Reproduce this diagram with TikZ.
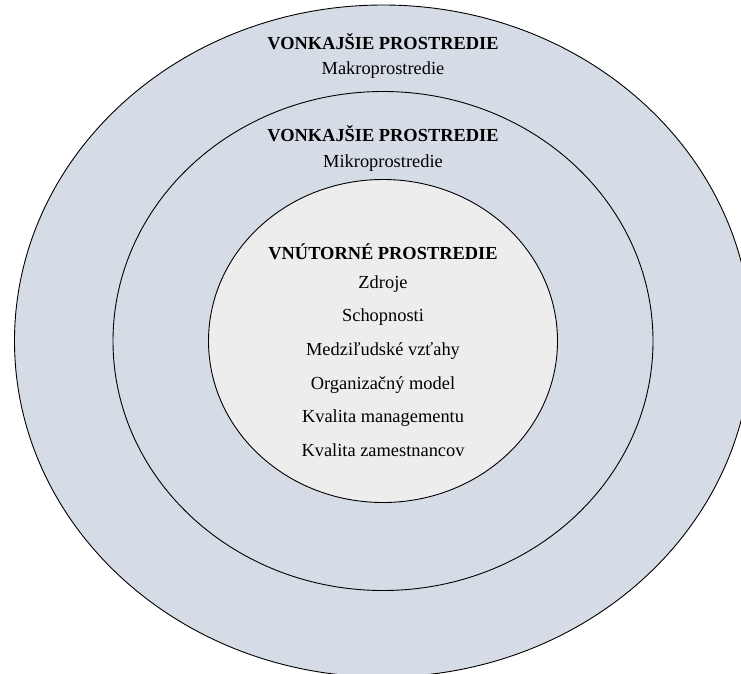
\documentclass[tikz,border=0pt]{standalone}
\usepackage{fontspec}
\setmainfont{Liberation Serif}
\usetikzlibrary{shapes.geometric, positioning}

\definecolor{ringblue}{HTML}{D6DCE5}
\definecolor{coregray}{HTML}{EDEDED}

\begin{document}
\begin{tikzpicture}[
        x=1pt, y=-1pt,
        ring/.style={draw, ellipse, line width=0.9pt, inner sep=0pt, outer sep=0pt},
        ttl/.style={anchor=base, inner sep=0pt, font=\fontsize{18.4}{22}\selectfont\bfseries},
        txt/.style={anchor=base, inner sep=0pt, font=\fontsize{18.4}{22}\selectfont}
      ]
      \useasboundingbox (0,0) rectangle (741,674);
      \clip (0,0) rectangle (741,674);

      % Ellipses
      \node[ring, fill=ringblue, minimum width=737pt, minimum height=672pt] (makro) at (383,341) {};
      \node[ring, fill=ringblue, minimum width=540pt, minimum height=499pt] (mikro) at (383,341) {};
      \node[ring, fill=coregray, minimum width=349pt, minimum height=323pt] (vnutorne) at (383,341) {};

      % Outer ring
      \node[ttl] (makroTtl) at (383,50) {VONKAJŠIE PROSTREDIE};
      \node[txt] (makroTxt) at (383,75) {Makroprostredie};

      % Middle ring
      \node[ttl] (mikroTtl) at (383,142) {VONKAJŠIE PROSTREDIE};
      \node[txt] (mikroTxt) at (383,167) {Mikroprostredie};

      % Core
      \node[ttl] (vnutTtl) at (383,259) {VNÚTORNÉ PROSTREDIE};
      \node[txt] (zdroje) at (383,288) {Zdroje};
      \node[txt] (schop) at (383,321.5) {Schopnosti};
      \node[txt] (vztahy) at (383,355) {Medziľudské vzťahy};
      \node[txt] (model) at (383,389) {Organizačný model};
      \node[txt] (manag) at (383,422) {Kvalita managementu};
      \node[txt] (zamest) at (383,456) {Kvalita zamestnancov};
    \end{tikzpicture}
\end{document}
